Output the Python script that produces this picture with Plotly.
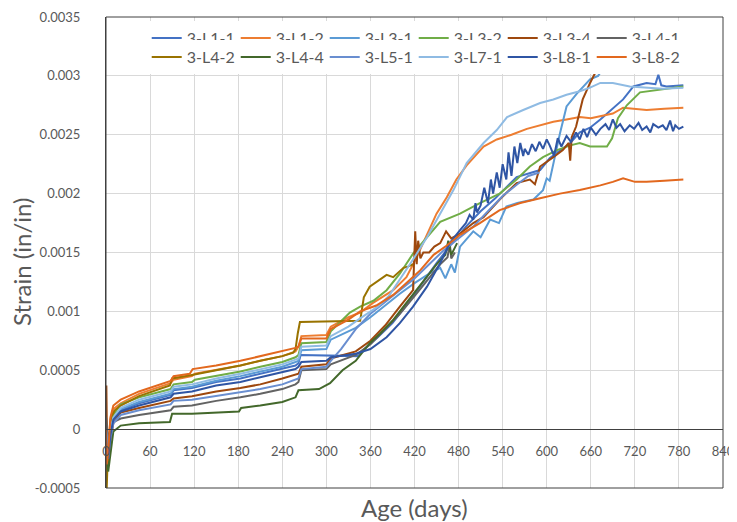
import plotly.graph_objects as go

# ---------------- data ----------------
series_names = ["3-L1-1", "3-L1-2", "3-L3-1", "3-L3-2", "3-L3-4", "3-L4-1",
                "3-L4-2", "3-L4-4", "3-L5-1", "3-L7-1", "3-L8-1", "3-L8-2"]
series_colors = ["#4472C4", "#ED7D31", "#5B9BD5", "#70AD47", "#9E480E", "#636363",
                 "#997300", "#43682B", "#698ED0", "#8FBBE3", "#2F55A4", "#E2681E"]

x_tick_vals = [0, 60, 120, 180, 240, 300, 360, 420, 480, 540, 600, 660, 720, 780, 840]
y_tick_vals = [-0.0005, 0, 0.0005, 0.001, 0.0015, 0.002, 0.0025, 0.003, 0.0035]
y_tick_text = ["-0.0005", "0", "0.0005", "0.001", "0.0015", "0.002", "0.0025", "0.003", "0.0035"]

L1_1_age = [0, 1, 3, 6, 10, 20, 45, 88, 92, 117, 150, 183, 210, 240, 258, 262, 265, 343, 350, 370,
            390, 410, 430, 450, 470, 490, 510, 530, 559, 591, 604, 632, 645, 659, 673, 690, 704,
            718, 736, 748, 752, 756, 763, 786]
L1_1_strain = [0.00002, -0.0001, -0.00022, -0.00005, 0.00008, 0.00016, 0.00022, 0.00029, 0.00033,
               0.00035, 0.0004, 0.00043, 0.00047, 0.00051, 0.00054, 0.00056, 0.00063, 0.00062,
               0.00067, 0.00078, 0.0009, 0.00106, 0.00124, 0.00141, 0.00157, 0.00172, 0.00185,
               0.00196, 0.00214, 0.0022, 0.0023, 0.00243, 0.00252, 0.00256, 0.00263, 0.00272,
               0.0028, 0.00291, 0.00294, 0.00293, 0.00301, 0.00292, 0.00291, 0.00292]

L1_2_age = [0, 1, 3, 6, 10, 20, 45, 88, 92, 117, 121, 150, 183, 210, 240, 258, 262, 266, 300, 306,
            330, 346, 363, 391, 409, 423, 437, 450, 464, 477, 491, 514, 532, 552, 573, 591, 609,
            627, 645, 660, 690, 704, 736, 760, 786]
L1_2_strain = [0.0, -0.0002, -0.00015, 0.00008, 0.00017, 0.00022, 0.0003, 0.00039, 0.00042,
               0.00045, 0.00047, 0.0005, 0.00054, 0.00058, 0.00062, 0.00066, 0.0007, 0.00079,
               0.0008, 0.00087, 0.00095, 0.00099, 0.00107, 0.00118, 0.00129, 0.00146, 0.00166,
               0.00183, 0.00197, 0.00212, 0.00224, 0.0024, 0.00246, 0.0025, 0.00255, 0.00258,
               0.00261, 0.00263, 0.00265, 0.00264, 0.00268, 0.00273, 0.00271, 0.00272, 0.00273]

L3_1_age = [0, 1, 3, 6, 10, 20, 45, 88, 92, 117, 150, 183, 210, 240, 258, 262, 266, 300, 306, 340,
            360, 380, 400, 420, 440, 455, 462, 470, 475, 482, 500, 510, 523, 535, 545, 560, 582,
            595, 600, 604, 610, 618, 627, 641, 659, 670, 680]
L3_1_strain = [0.0, -0.00015, -0.0003, -0.0001, 0.00008, 0.00017, 0.00023, 0.0003, 0.00034,
               0.00036, 0.00041, 0.00045, 0.00049, 0.00053, 0.00057, 0.00058, 0.00067, 0.00068,
               0.00076, 0.00086, 0.00095, 0.00105, 0.00115, 0.00124, 0.00132, 0.00137, 0.00128,
               0.0014, 0.00133, 0.00155, 0.00168, 0.00163, 0.00178, 0.00175, 0.00189, 0.00192,
               0.00195, 0.00203, 0.00213, 0.00211, 0.00229, 0.00251, 0.00274, 0.00285, 0.00297,
               0.003, 0.0031]

L3_2_age = [0, 1, 3, 6, 10, 20, 45, 88, 92, 117, 121, 150, 183, 210, 240, 258, 262, 266, 300, 306,
            332, 346, 364, 382, 400, 418, 437, 455, 482, 509, 536, 559, 577, 595, 614, 632, 645,
            659, 682, 689, 697, 709, 727, 750, 786]
L3_2_strain = [0.0, -0.00012, -0.0002, 0.00002, 0.00012, 0.00021, 0.00027, 0.00034, 0.00038,
               0.0004, 0.00042, 0.00045, 0.00049, 0.00053, 0.00057, 0.00061, 0.00063, 0.00073,
               0.00074, 0.00083, 0.00099, 0.00104, 0.00109, 0.00118, 0.00132, 0.00149, 0.00163,
               0.00176, 0.00183, 0.00192, 0.002, 0.00212, 0.00223, 0.00231, 0.00237, 0.00241,
               0.00243, 0.0024, 0.0024, 0.00247, 0.00264, 0.00275, 0.00286, 0.00288, 0.00291]

L3_4_age = [0, 0.5, 1, 2, 4, 7, 10, 20, 45, 88, 92, 117, 150, 183, 210, 240, 258, 262, 266, 300,
            306, 340, 360, 380, 400, 410, 418, 421, 423, 425, 428, 432, 440, 447, 455, 463, 470,
            482, 500, 514, 536, 559, 577, 584, 591, 609, 622, 630, 632, 634, 640, 649, 659, 668]
L3_4_strain = [0.0, 0.00037, 0.0001, -0.0002, -0.00025, -0.00005, 0.00005, 0.00014, 0.00018,
               0.00024, 0.00026, 0.00028, 0.00032, 0.00035, 0.00038, 0.00043, 0.00046, 0.00047,
               0.00053, 0.00055, 0.0006, 0.00066, 0.00075, 0.00088, 0.00104, 0.00112, 0.00118,
               0.00168, 0.0014, 0.0016, 0.00145, 0.0015, 0.0015, 0.00155, 0.00158, 0.00168,
               0.00162, 0.00166, 0.00175, 0.0018, 0.00195, 0.00209, 0.00212, 0.00208, 0.00223,
               0.00231, 0.00237, 0.00243, 0.00228, 0.00248, 0.00257, 0.0028, 0.00294, 0.00305]

L4_1_age = [0, 1, 3, 6, 10, 20, 45, 88, 92, 117, 150, 183, 210, 240, 258, 262, 266, 300, 306, 340,
            360, 380, 400, 420, 440, 455, 465, 468, 470, 475]
L4_1_strain = [0.0001, 0.00005, -0.0001, 0.0, 0.00006, 0.00009, 0.00012, 0.00016, 0.00019, 0.0002,
               0.00024, 0.00027, 0.0003, 0.00034, 0.00038, 0.0004, 0.0005, 0.00051, 0.00055,
               0.00063, 0.00072, 0.00085, 0.00098, 0.00113, 0.00128, 0.0014, 0.00146, 0.00158,
               0.00145, 0.0015]

L4_2_age = [0, 1, 2, 4, 7, 12, 20, 45, 87, 90, 117, 150, 183, 210, 240, 255, 258, 261, 264, 346,
            351, 359, 373, 382, 391, 398, 405, 411, 418]
L4_2_strain = [0.0, -0.0005, -0.0003, -0.0002, 0.0001, 0.00016, 0.0002, 0.00028, 0.00037, 0.00043,
               0.00046, 0.0005, 0.00054, 0.00058, 0.00062, 0.00065, 0.00068, 0.00081, 0.00091,
               0.00092, 0.00112, 0.00121, 0.00127, 0.00131, 0.00129, 0.00133, 0.00137, 0.00138,
               0.0014]

L4_4_age = [0, 1, 3, 6, 10, 20, 45, 87, 90, 117, 150, 181, 184, 210, 240, 258, 262, 290, 305, 322,
            340, 359, 373, 390, 410, 430, 450, 462, 466, 470, 478]
L4_4_strain = [0.0, -0.0002, -0.00036, -0.0002, -0.00002, 0.00003, 0.00005, 0.00006, 0.00013,
               0.00013, 0.00014, 0.00015, 0.00018, 0.0002, 0.00023, 0.00027, 0.00033, 0.00034,
               0.00039, 0.0005, 0.00058, 0.00073, 0.00081, 0.00092, 0.00108, 0.00124, 0.0014,
               0.00148, 0.0016, 0.00148, 0.00158]

L5_1_age = [0, 1, 3, 6, 10, 20, 45, 88, 92, 117, 150, 183, 210, 240, 258, 262, 266, 300, 306, 320,
            340, 360, 380, 400, 420, 440, 460, 482, 500, 520, 540, 560, 575, 590]
L5_1_strain = [0.0, -0.0001, -0.00025, -0.00008, 0.00005, 0.00012, 0.00016, 0.00021, 0.00024,
               0.00025, 0.00028, 0.00031, 0.00034, 0.00038, 0.00042, 0.00043, 0.00051, 0.00053,
               0.00058, 0.00068, 0.00085, 0.00098, 0.00108, 0.00118, 0.00128, 0.0014, 0.00152,
               0.00163, 0.00172, 0.00185, 0.00198, 0.00208, 0.00215, 0.00218]

L7_1_age = [0, 1, 3, 6, 10, 20, 45, 88, 92, 117, 150, 183, 210, 240, 258, 262, 266, 300, 306, 330,
            346, 370, 385, 400, 418, 437, 455, 473, 491, 514, 532, 546, 568, 591, 609, 627, 645,
            659, 673, 690, 713, 736, 758, 786]
L7_1_strain = [0.0, -0.0001, -0.0002, 0.0, 0.0001, 0.00018, 0.00025, 0.00032, 0.00036, 0.00038,
               0.00043, 0.00047, 0.00051, 0.00055, 0.00059, 0.0006, 0.0007, 0.00071, 0.00079,
               0.00087, 0.00094, 0.00104, 0.00113, 0.00127, 0.00144, 0.00163, 0.00183, 0.00203,
               0.00226, 0.00243, 0.00254, 0.00265, 0.00271, 0.00277, 0.0028, 0.00284, 0.00287,
               0.0029, 0.00294, 0.00294, 0.00291, 0.0029, 0.00289, 0.0029]

L8_1_age = [0, 1, 3, 6, 10, 20, 45, 88, 92, 117, 150, 183, 210, 240, 258, 262, 266, 300, 306, 340,
            360, 382, 400, 418, 437, 455, 468, 482, 490, 495, 500, 503, 505, 510, 515, 520, 524,
            527, 532, 536, 540, 545, 548, 552, 556, 560, 564, 568, 570, 575, 580, 585, 590, 595,
            600, 604, 610, 615, 620, 627, 633, 640, 645, 650, 655, 660, 667, 673, 680, 685, 690,
            695, 700, 706, 713, 719, 725, 730, 736, 741, 745, 752, 758, 763, 768, 772, 775, 780,
            786]
L8_1_strain = [0.0, -0.00015, -0.00025, -0.00005, 0.00008, 0.00015, 0.0002, 0.00027, 0.0003,
               0.00032, 0.00037, 0.0004, 0.00044, 0.00048, 0.00051, 0.00053, 0.00057, 0.00058,
               0.00061, 0.00064, 0.00068, 0.00078, 0.0009, 0.00104, 0.00121, 0.00141, 0.00158,
               0.00169, 0.00175, 0.00182, 0.00178, 0.00192, 0.00184, 0.0019, 0.00205, 0.00192,
               0.00212, 0.002, 0.00218, 0.00205, 0.00225, 0.00212, 0.00235, 0.00215, 0.0024,
               0.00226, 0.00243, 0.00232, 0.00238, 0.00233, 0.00242, 0.00236, 0.00244, 0.00238,
               0.00246, 0.00241, 0.00232, 0.00247, 0.0024, 0.00249, 0.00244, 0.00252, 0.00246,
               0.00255, 0.00248, 0.00256, 0.0025, 0.00255, 0.00259, 0.00254, 0.00263, 0.00256,
               0.00259, 0.00253, 0.00258, 0.00255, 0.0026, 0.00254, 0.00257, 0.00252, 0.00259,
               0.00256, 0.00258, 0.00254, 0.00262, 0.00253, 0.00258, 0.00255, 0.00257]

L8_2_age = [0, 1, 3, 6, 10, 20, 45, 88, 92, 114, 118, 150, 183, 210, 240, 258, 262, 266, 300, 306,
            330, 346, 368, 391, 409, 428, 446, 464, 482, 509, 536, 564, 591, 618, 645, 660, 673,
            690, 704, 720, 736, 760, 786]
L8_2_strain = [0.0, -0.0003, -0.0002, 0.0001, 0.0002, 0.00025, 0.00032, 0.00041, 0.00045, 0.00047,
               0.00051, 0.00054, 0.00058, 0.00062, 0.00066, 0.00069, 0.0007, 0.00077, 0.00077,
               0.00085, 0.00093, 0.001, 0.00105, 0.00114, 0.00124, 0.00135, 0.00148, 0.00156,
               0.00165, 0.00175, 0.00186, 0.00192, 0.00196, 0.002, 0.00203, 0.00205, 0.00207,
               0.0021, 0.00213, 0.0021, 0.0021, 0.00211, 0.00212]

series_data = [
    (L1_1_age, L1_1_strain), (L1_2_age, L1_2_strain), (L3_1_age, L3_1_strain),
    (L3_2_age, L3_2_strain), (L3_4_age, L3_4_strain), (L4_1_age, L4_1_strain),
    (L4_2_age, L4_2_strain), (L4_4_age, L4_4_strain), (L5_1_age, L5_1_strain),
    (L7_1_age, L7_1_strain), (L8_1_age, L8_1_strain), (L8_2_age, L8_2_strain),
]

# ---------------- figure ----------------
FONT = "Lato"
TEXT = "#595959"
fig = go.Figure()
for i, (name, color, (ages, strains)) in enumerate(zip(series_names, series_colors, series_data)):
    fig.add_trace(go.Scatter(
        x=ages, y=strains, mode="lines", name=name,
        line=dict(color=color, width=2),
        legend="legend" if i < 6 else "legend2",
    ))

legend_common = dict(
    orientation="h", xanchor="left", yanchor="middle",
    bgcolor="white", borderwidth=0,
    font=dict(family=FONT, size=16, color=TEXT),
    entrywidth=44, entrywidthmode="pixels", itemwidth=30,
    traceorder="normal",
)

# the page body adds an 8px offset, so the figure is 8px smaller than the window
fig.update_layout(
    width=729, height=514,
    margin=dict(l=98, r=14, t=9, b=34, autoexpand=False),
    plot_bgcolor="white", paper_bgcolor="white",
    font=dict(family=FONT, color=TEXT),
    showlegend=True,
    xaxis=dict(
        range=[0, 840], tickvals=x_tick_vals, automargin=False,
        showgrid=True, gridcolor="#D9D9D9", gridwidth=1,
        zeroline=False, showline=True, linecolor="#404040", linewidth=1,
        anchor="free", position=0.125, ticks="",
        ticklabelstandoff=10,
        tickfont=dict(family=FONT, size=13, color=TEXT),
    ),
    yaxis=dict(
        range=[-0.0005, 0.0035], tickvals=y_tick_vals, ticktext=y_tick_text, automargin=False,
        showgrid=True, gridcolor="#D9D9D9", gridwidth=1,
        zeroline=False, showline=True, linecolor="#404040", linewidth=1,
        ticks="", ticklabelstandoff=22,
        tickfont=dict(family=FONT, size=13, color=TEXT),
    ),
    legend=dict(x=0.066, y=0.955, **legend_common),
    legend2=dict(x=0.066, y=0.915, **legend_common),
    shapes=[dict(type="rect", xref="paper", yref="paper", x0=0, x1=1, y0=0, y1=1,
                 line=dict(color="#404040", width=1), fillcolor="rgba(0,0,0,0)", layer="above")],
    annotations=[
        dict(text="Age (days)", xref="paper", yref="paper", x=0.5, y=-0.042,
             xanchor="center", yanchor="middle", showarrow=False,
             font=dict(family=FONT, size=24, color=TEXT)),
        dict(text="Strain (in/in)", xref="paper", yref="paper", x=-0.136, y=0.48,
             xanchor="center", yanchor="middle", showarrow=False, textangle=-90,
             font=dict(family=FONT, size=24, color=TEXT)),
    ],
)

fig.write_html("out.html")
